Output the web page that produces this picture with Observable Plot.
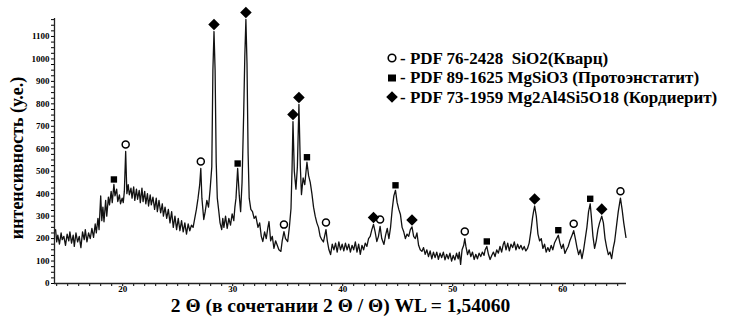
<!DOCTYPE html>
<html>
<head>
<meta charset="utf-8">
<script src="https://cdn.jsdelivr.net/npm/d3@7"></script>
<script src="https://cdn.jsdelivr.net/npm/@observablehq/plot@0.6"></script>
<style>
  body { margin: 0; background: #fff; }
  #wrap { position: relative; width: 732px; height: 321px; font-family: "Liberation Serif", "Times New Roman", serif; }
  #legend { position: absolute; left: 385px; top: 48.5px; font-weight: bold; font-size: 17px; line-height: 19.5px; color: #000; }
  #legend .row { display: flex; align-items: center; height: 19.5px; white-space: pre; }
  #legend svg { width: 14px; height: 14px; flex: none; margin-right: 1px; }
</style>
</head>
<body>
<div id="wrap">
  <div id="chart"></div>
  <div id="legend"></div>
</div>
<script>
// XRD pattern: [2θ (deg), intensity (a.u.)]
const pattern = [
  [13.9,240],[14.0,185],[14.1,215],[14.25,175],[14.4,225],[14.5,195],[14.65,210],[14.8,170],
  [14.95,220],[15.1,190],[15.2,230],[15.35,180],[15.5,215],[15.6,165],[15.75,225],[15.9,185],
  [16.05,210],[16.2,160],[16.35,230],[16.5,195],[16.6,240],[16.75,185],[16.9,225],[17.05,200],
  [17.2,245],[17.35,205],[17.5,265],[17.6,225],[17.75,290],[17.85,240],[18.0,390],[18.1,280],
  [18.2,340],[18.3,275],[18.45,370],[18.55,300],[18.7,385],[18.8,350],[18.95,410],[19.05,360],
  [19.2,441],[19.3,390],[19.45,420],[19.55,365],[19.7,395],[19.8,355],[19.95,380],[20.05,360],
  [20.15,410],[20.27,588],[20.38,400],[20.5,440],[20.6,395],[20.75,425],[20.85,380],[21.0,430],
  [21.1,370],[21.25,420],[21.35,375],[21.5,415],[21.6,360],[21.75,425],[21.85,365],[22.0,410],
  [22.1,355],[22.25,400],[22.35,345],[22.5,395],[22.6,350],[22.75,385],[22.9,330],[23.05,380],
  [23.15,320],[23.3,370],[23.45,315],[23.6,355],[23.7,300],[23.85,340],[24.0,290],[24.15,330],
  [24.3,270],[24.45,320],[24.6,250],[24.75,300],[24.9,240],[25.05,290],[25.2,235],[25.35,280],
  [25.5,230],[25.65,270],[25.8,220],[25.95,265],[26.1,235],[26.25,260],[26.4,250],[26.55,290],
  [26.7,330],[26.85,380],[27.0,440],[27.1,512],[27.2,380],[27.37,285],[27.5,320],[27.65,370],
  [27.8,340],[27.95,420],[28.1,520],[28.2,950],[28.3,1122],[28.4,950],[28.5,540],[28.6,380],
  [28.74,320],[28.85,270],[29.0,240],[29.1,290],[29.2,250],[29.35,300],[29.5,245],[29.65,290],
  [29.8,260],[29.95,310],[30.1,280],[30.2,340],[30.3,380],[30.45,512],[30.6,390],[30.72,320],
  [30.85,450],[31.0,760],[31.1,1010],[31.2,1176],[31.3,980],[31.4,580],[31.5,380],[31.65,330],
  [31.8,320],[31.95,290],[32.1,300],[32.3,250],[32.45,270],[32.6,210],[32.74,187],[32.9,230],
  [33.05,200],[33.2,250],[33.3,276],[33.45,190],[33.6,210],[33.75,156],[33.9,190],[34.05,170],
  [34.2,150],[34.38,143],[34.5,190],[34.66,231],[34.8,200],[35.0,187],[35.15,250],[35.3,334],
  [35.4,520],[35.48,721],[35.6,500],[35.75,420],[35.88,520],[36.02,797],[36.15,520],[36.25,396],
  [36.4,470],[36.55,440],[36.75,540],[36.9,480],[37.05,450],[37.2,400],[37.35,340],[37.5,300],
  [37.65,270],[37.8,250],[37.95,210],[38.1,195],[38.25,185],[38.48,240],[38.6,190],[38.75,150],
  [38.9,129],[39.05,175],[39.2,150],[39.35,180],[39.5,140],[39.65,185],[39.8,150],[39.95,175],
  [40.1,145],[40.25,180],[40.4,150],[40.55,175],[40.7,140],[40.85,170],[41.0,150],[41.15,185],
  [41.3,140],[41.45,175],[41.6,130],[41.75,170],[41.9,150],[42.05,180],[42.2,165],[42.35,200],
  [42.5,210],[42.65,240],[42.8,263],[42.95,230],[43.1,187],[43.25,210],[43.4,254],[43.55,200],
  [43.75,174],[43.9,215],[44.05,245],[44.2,200],[44.35,250],[44.5,330],[44.65,390],[44.8,415],
  [44.95,360],[45.1,330],[45.25,307],[45.4,250],[45.55,230],[45.7,200],[45.85,220],[46.0,210],
  [46.15,240],[46.3,252],[46.45,210],[46.6,200],[46.75,225],[46.9,170],[47.05,150],[47.2,143],
  [47.35,160],[47.5,130],[47.65,150],[47.8,120],[47.95,145],[48.1,110],[48.25,140],[48.4,115],
  [48.55,140],[48.7,108],[48.85,135],[49.0,115],[49.15,140],[49.3,105],[49.45,130],[49.6,110],
  [49.75,135],[49.9,100],[50.05,125],[50.2,105],[50.35,135],[50.5,110],[50.6,140],[50.72,85],
  [50.85,150],[51.0,170],[51.1,200],[51.2,165],[51.35,129],[51.5,150],[51.65,120],[51.8,140],
  [51.95,107],[52.1,130],[52.25,110],[52.4,135],[52.55,120],[52.7,140],[52.85,125],[52.95,150],
  [53.1,165],[53.25,130],[53.4,107],[53.55,125],[53.7,140],[53.85,120],[54.0,150],[54.15,135],
  [54.3,165],[54.45,140],[54.6,175],[54.7,187],[54.85,150],[55.0,180],[55.15,145],[55.3,175],
  [55.45,160],[55.6,185],[55.75,150],[55.9,175],[56.05,155],[56.2,170],[56.35,150],[56.5,165],
  [56.65,145],[56.8,156],[56.95,180],[57.1,230],[57.25,290],[57.35,320],[57.45,345],[57.6,300],
  [57.75,220],[57.9,190],[58.05,200],[58.2,156],[58.35,175],[58.5,140],[58.65,160],[58.8,143],
  [58.95,170],[59.1,150],[59.25,180],[59.45,200],[59.6,215],[59.75,180],[59.9,156],[60.05,175],
  [60.2,134],[60.35,150],[60.5,165],[60.65,190],[60.85,215],[61.0,235],[61.15,200],[61.3,160],
  [61.45,129],[61.6,150],[61.75,111],[61.9,150],[62.05,200],[62.2,250],[62.35,320],[62.5,355],
  [62.6,300],[62.75,210],[62.9,156],[63.05,190],[63.2,240],[63.35,270],[63.55,300],[63.7,270],
  [63.85,200],[64.0,160],[64.15,129],[64.3,140],[64.45,111],[64.6,160],[64.72,187],[64.9,260],
  [65.05,320],[65.25,380],[65.4,330],[65.55,270],[65.75,205]
];

// Phase identification: [2θ, peak intensity]
const quartz = [[20.27,588],[27.1,512],[34.66,231],[38.48,240],[43.4,254],[51.1,200],[61.0,235],[65.25,380]];
const protoenstatite = [[19.2,441],[30.45,512],[36.75,540],[44.8,415],[53.1,165],[59.6,215],[62.5,355]];
const cordierite = [[28.3,1122],[31.2,1176],[35.48,721],[36.02,797],[42.8,263],[46.3,252],[57.45,345],[63.55,300]];

const legendLabels = [
  "- PDF 76-2428  SiO2(Кварц)",
  "- PDF 89-1625 MgSiO3 (Протоэнстатит)",
  "- PDF 73-1959 Mg2Al4Si5O18 (Кордиерит)"
];

const xTicksMajor = [20, 30, 40, 50, 60];
const xTicksMinor = d3.range(14, 66, 1);
const yTicksMajor = [0, 100, 200, 300, 400, 500, 600, 700, 800, 900, 1000, 1100];
const yTicksMinor = d3.range(0, 1180, 25);

const xTitle = "2 Θ (в сочетании 2 Θ / Θ) WL = 1,54060";
const yTitle = "интенсивность (у.е.)";

const X = d => d[0], Y = d => d[1];
const serif = "Liberation Serif, Times New Roman, serif";

const chart = Plot.plot({
  width: 732,
  height: 321,
  marginLeft: 54,
  marginRight: 106,
  marginTop: 18,
  marginBottom: 38,
  x: {domain: [13.8, 65.8]},
  y: {domain: [0, 1180]},
  style: {fontFamily: serif, background: "white", color: "black", overflow: "visible"},
  marks: [
    Plot.axisX({ticks: xTicksMinor, tickSize: 3, tickFormat: () => "", label: null, strokeWidth: 1}),
    Plot.axisX({ticks: xTicksMajor, tickSize: 0, tickPadding: 2, fontSize: 9, fontWeight: "bold", label: null, tickFormat: d => String(d)}),
    Plot.axisY({ticks: yTicksMinor, tickSize: 3, tickFormat: () => "", label: null}),
    Plot.axisY({ticks: yTicksMajor, tickSize: 0, tickPadding: 5, fontSize: 9, fontWeight: "bold", label: null, tickFormat: d => String(d)}),
    Plot.ruleY([0], {stroke: "#222", strokeWidth: 1.3}),
    Plot.ruleX([13.8], {stroke: "#222", strokeWidth: 1.3}),
    Plot.line(pattern, {x: X, y: Y, stroke: "#111", strokeWidth: 1.3}),
    Plot.dot(quartz, {x: X, y: Y, symbol: "circle", r: 3.5, fill: "white", stroke: "black", strokeWidth: 1.5, dy: -7}),
    Plot.dot(protoenstatite, {x: X, y: Y, symbol: "square", r: 3.6, fill: "black", dy: -5}),
    Plot.dot(cordierite, {x: X, y: Y, symbol: "diamond2", r: 5.2, fill: "black", dy: -7}),
    Plot.text([xTitle], {frameAnchor: "bottom", dy: 28, fontSize: 19.5, fontWeight: "bold", fill: "black"}),
    Plot.text([yTitle], {frameAnchor: "left", dx: -37, dy: 7, rotate: -90, textAnchor: "middle", fontSize: 18, fontWeight: "bold", fill: "black"})
  ]
});
document.getElementById("chart").appendChild(chart);

// Legend of the identified phases
const symbols = [
  '<circle cx="7" cy="7" r="3.8" fill="white" stroke="black" stroke-width="1.6"/>',
  '<rect x="3" y="3.5" width="8" height="7" fill="black"/>',
  '<path d="M7 1.2 L12.8 7 L7 12.8 L1.2 7 Z" fill="black"/>'
];
const legend = document.getElementById("legend");
legendLabels.forEach((t, i) => {
  const row = document.createElement("div");
  row.className = "row";
  row.innerHTML = `<svg viewBox="0 0 14 14">${symbols[i]}</svg><span>${t}</span>`;
  legend.appendChild(row);
});
</script>
</body>
</html>
